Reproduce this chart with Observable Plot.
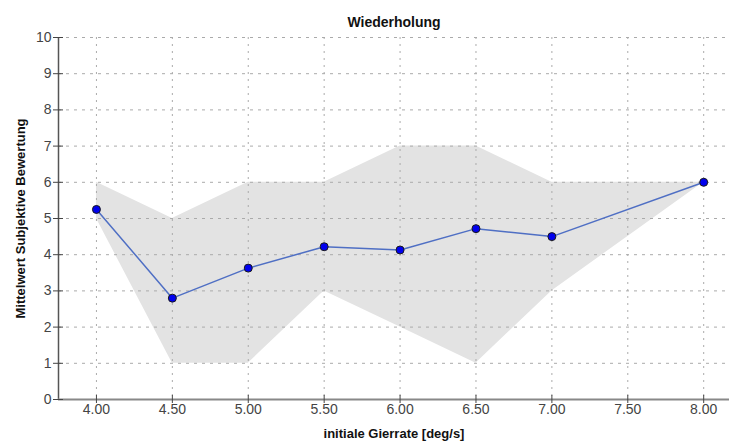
<!DOCTYPE html>
<html>
<head>
<meta charset="utf-8">
<script src="https://cdn.jsdelivr.net/npm/d3@7"></script>
<script src="https://cdn.jsdelivr.net/npm/@observablehq/plot@0.6"></script>
<style>
  html, body { margin: 0; padding: 0; background: #fff; }
  svg { font-family: "Liberation Sans", Arial, sans-serif; }
</style>
</head>
<body>
<div id="chart"></div>
<script>
const title = "Wiederholung";
const xLabel = "initiale Gierrate [deg/s]";
const yLabel = "Mittelwert Subjektive Bewertung";
const gierrate = [4.0, 4.5, 5.0, 5.5, 6.0, 6.5, 7.0, 8.0];
const mittelwert = [5.25, 2.8, 3.63, 4.22, 4.13, 4.72, 4.5, 6.0];
const minimum = [5, 1, 1, 3, 2, 1, 3, 6];
const maximum = [6, 5, 6, 6, 7, 7, 6, 6];
const xTicks = [4.0, 4.5, 5.0, 5.5, 6.0, 6.5, 7.0, 7.5, 8.0];
const yTicks = [0, 1, 2, 3, 4, 5, 6, 7, 8, 9, 10];

const data = gierrate.map((x, i) => ({x, mean: mittelwert[i], lo: minimum[i], hi: maximum[i]}));

const xDomain = [3.75, 8.17];
const chart = Plot.plot({
  width: 729,
  height: 444,
  marginLeft: 58,
  marginRight: 0,
  marginTop: 37,
  marginBottom: 45,
  style: {fontFamily: "'Liberation Sans', Arial, sans-serif", background: "#fff"},
  x: {domain: xDomain, ticks: xTicks},
  y: {domain: [0, 10], ticks: yTicks},
  marks: [
    Plot.areaY(data, {x: "x", y1: "lo", y2: "hi", fill: "#e3e3e3"}),
    Plot.gridX(xTicks, {stroke: "#aaa", strokeOpacity: 1, strokeDasharray: "2,5", strokeWidth: 1}),
    Plot.gridY(yTicks, {stroke: "#aaa", strokeOpacity: 1, strokeDasharray: "3,5", strokeWidth: 1}),
    Plot.ruleX([xDomain[0]], {stroke: "#555", strokeWidth: 1.5}),
    Plot.ruleY([0], {stroke: "#888", strokeWidth: 2}),
    Plot.axisY(yTicks, {tickSize: 5, tickPadding: 2, fontSize: 14, color: "#444", stroke: "#444", label: null, tickFormat: d => String(d)}),
    Plot.ruleY(yTicks, {y: d => d, x1: xDomain[0], x2: xDomain[0] + 0.033, stroke: "#444"}),
    Plot.axisX(xTicks, {tickSize: 4, tickPadding: 1, fontSize: 14, color: "#444", stroke: "#444", label: null, tickFormat: d => d.toFixed(2)}),
    Plot.ruleX(xTicks, {x: d => d, y1: 0, y2: 0.11, stroke: "#444"}),
    Plot.lineY(data, {x: "x", y: "mean", stroke: "#4f6fc4", strokeWidth: 1.5}),
    Plot.dot(data, {x: "x", y: "mean", r: 4, fill: "#0000ee", stroke: "#1a1a1a", strokeWidth: 1}),
    Plot.text([title], {frameAnchor: "top", dy: -20, fontSize: 14, fontWeight: "bold", fill: "#111"}),
    Plot.text([xLabel], {frameAnchor: "bottom", dy: 38, fontSize: 13, fontWeight: "bold", fill: "#111"}),
    Plot.text([yLabel], {frameAnchor: "left", textAnchor: "middle", dx: -38, rotate: -90, fontSize: 13, fontWeight: "bold", fill: "#111"})
  ]
});
document.getElementById("chart").appendChild(chart);
</script>
</body>
</html>
